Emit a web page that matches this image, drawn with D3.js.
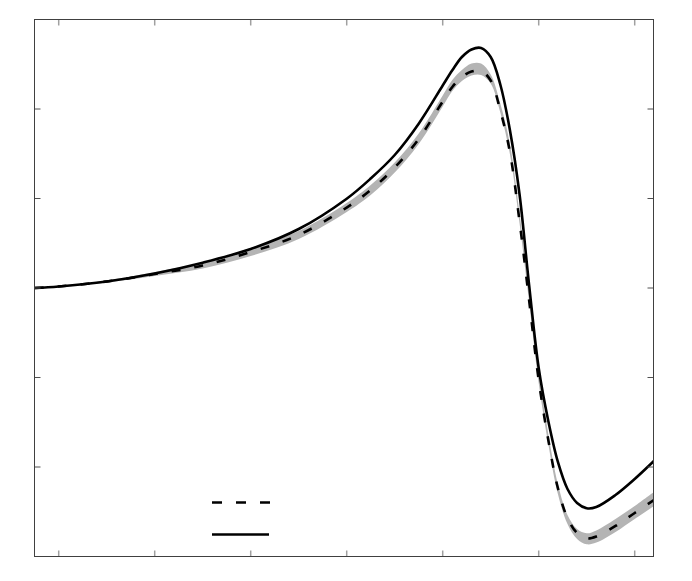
<!DOCTYPE html>
<html>

<head>
    <meta charset="utf-8" />
    <title>Resonance curves</title>
    <script src="https://d3js.org/d3.v7.min.js"></script>
</head>
<style>
    body { margin: 0; background-color: white; }
    svg { display: block; background-color: white; }
    .frame { fill: none; stroke: #404040; stroke-width: 1px; }
    .tick-x { stroke: #a0a0a0; stroke-width: 1.5px; }
    .tick-y { stroke: #505050; stroke-width: 1px; }
</style>

<body>
    <div id="container"></div>

    <script>
        /* Values */
        var xValues = [-0.25, 0, 0.5, 1, 1.5, 2, 2.5, 3, 3.25, 3.5, 3.75, 4, 4.1, 4.2, 4.3, 4.4,
            4.5, 4.6, 4.7, 4.8, 4.9, 5.0, 5.1, 5.2, 5.3, 5.4, 5.5, 5.6, 5.8, 6.0, 6.2];
        var solidValues = [0, 0.017, 0.073, 0.162, 0.283, 0.436, 0.659, 0.998, 1.223, 1.486,
            1.836, 2.263, 2.432, 2.581, 2.665, 2.682, 2.581, 2.274, 1.765, 1.050,
            0.034, -0.894, -1.486, -1.944, -2.246, -2.402, -2.461, -2.447, -2.313, -2.134, -1.933];
        var dashedValues = [0, 0.017, 0.073, 0.156, 0.251, 0.402, 0.592, 0.899, 1.095, 1.346,
            1.665, 2.084, 2.246, 2.358, 2.419, 2.425, 2.318, 1.983, 1.520, 0.749,
            -0.134, -1.028, -1.698, -2.235, -2.570, -2.737, -2.797, -2.777, -2.659, -2.514, -2.369];
        var bandUpper = [0, 0.022, 0.084, 0.179, 0.285, 0.447, 0.637, 0.949, 1.151, 1.402,
            1.726, 2.151, 2.324, 2.436, 2.508, 2.508, 2.385, 2.061, 1.609, 0.838,
            -0.045, -0.939, -1.631, -2.190, -2.536, -2.693, -2.741, -2.709, -2.581, -2.436, -2.279];
        var bandLower = [0, 0.011, 0.061, 0.134, 0.217, 0.357, 0.547, 0.849, 1.039, 1.290,
            1.609, 2.028, 2.201, 2.313, 2.374, 2.380, 2.285, 1.961, 1.497, 0.726,
            -0.156, -1.061, -1.743, -2.302, -2.637, -2.804, -2.864, -2.844, -2.726, -2.581, -2.436];
        var xTicks = [0, 1, 2, 3, 4, 5, 6];
        var yTicks = [-2, -1, 0, 1, 2];

        var width = 692, height = 581;
        var padL = 34.5, padR = 653.5, padT = 19.5, padB = 556.5;

        var x = d3.scaleLinear().domain([-0.25, 6.2]).range([34.7, 653.9]);
        var y = d3.scaleLinear().domain([-3, 3]).range([padB, padT]);

        var svg = d3.select("#container").append("svg")
            .attr("width", width).attr("height", height);

        svg.append("defs").append("clipPath").attr("id", "plotclip")
            .append("rect")
            .attr("x", padL).attr("y", padT)
            .attr("width", padR - padL).attr("height", padB - padT);

        var plot = svg.append("g").attr("clip-path", "url(#plotclip)");

        /* gray band */
        var band = d3.area()
            .x(function (d, i) { return x(xValues[i]); })
            .y0(function (d, i) { return y(bandLower[i]); })
            .y1(function (d, i) { return y(bandUpper[i]); })
            .curve(d3.curveCatmullRom.alpha(0.5));

        plot.append("path")
            .attr("d", band(xValues))
            .attr("fill", "#b4b4b4");

        function lineFor(values) {
            return d3.line()
                .x(function (d, i) { return x(xValues[i]); })
                .y(function (d, i) { return y(values[i]); })
                .curve(d3.curveCatmullRom.alpha(0.5))(xValues);
        }

        plot.append("path")
            .attr("d", lineFor(dashedValues))
            .attr("fill", "none")
            .attr("stroke", "black")
            .attr("stroke-width", 2.6)
            .attr("stroke-dasharray", "9,14");

        plot.append("path")
            .attr("d", lineFor(solidValues))
            .attr("fill", "none")
            .attr("stroke", "black")
            .attr("stroke-width", 2.6);

        /* ticks on all four sides, pointing inward */
        var tickLen = 6;
        svg.append("g").selectAll("line")
            .data(xTicks).enter().append("line")
            .attr("class", "tick-x")
            .attr("x1", function (d) { return x(d); }).attr("x2", function (d) { return x(d); })
            .attr("y1", padB).attr("y2", padB - tickLen);
        svg.append("g").selectAll("line")
            .data(xTicks).enter().append("line")
            .attr("class", "tick-x")
            .attr("x1", function (d) { return x(d); }).attr("x2", function (d) { return x(d); })
            .attr("y1", padT).attr("y2", padT + tickLen);
        svg.append("g").selectAll("line")
            .data(yTicks).enter().append("line")
            .attr("class", "tick-y")
            .attr("x1", padL).attr("x2", padL + tickLen)
            .attr("y1", function (d) { return y(d); }).attr("y2", function (d) { return y(d); });
        svg.append("g").selectAll("line")
            .data(yTicks).enter().append("line")
            .attr("class", "tick-y")
            .attr("x1", padR).attr("x2", padR - tickLen)
            .attr("y1", function (d) { return y(d); }).attr("y2", function (d) { return y(d); });

        svg.append("rect").attr("class", "frame")
            .attr("x", padL).attr("y", padT)
            .attr("width", padR - padL).attr("height", padB - padT);

        /* legend, lines only */
        var legend = svg.append("g");
        legend.append("line")
            .attr("x1", 212).attr("x2", 270).attr("y1", 502.5).attr("y2", 502.5)
            .attr("stroke", "black").attr("stroke-width", 2.6)
            .attr("stroke-dasharray", "10,14");
        legend.append("line")
            .attr("x1", 212).attr("x2", 269).attr("y1", 534.5).attr("y2", 534.5)
            .attr("stroke", "black").attr("stroke-width", 2.6);
    </script>
</body>

</html>
